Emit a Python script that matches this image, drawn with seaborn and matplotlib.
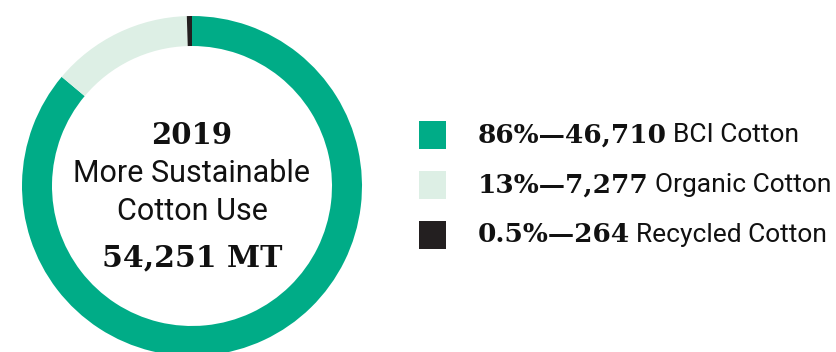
import matplotlib
matplotlib.use("Agg")
import matplotlib.pyplot as plt
from matplotlib import font_manager
from matplotlib.patches import Rectangle
import seaborn as sns

# data
labels = ["BCI Cotton", "Organic Cotton", "Recycled Cotton"]
tonnes = [46710, 7277, 264]
shares = ["86%", "13%", "0.5%"]
colors = ["#00ac87", "#ddefe5", "#231f20"]
year = "2019"
total = "54,251 MT"

sns.set_theme(style="white")

installed = {f.name for f in font_manager.fontManager.ttflist}
sans = "Liberation Sans Narrow" if "Liberation Sans Narrow" in installed else "Roboto"
serif = "DejaVu Serif"

W, H = 837, 352
fig = plt.figure(figsize=(W / 100, H / 100), dpi=100)

# donut: center (192, 186) px, radius 170 px
cx, cy, r = 192, 186, 170
ax = fig.add_axes([(cx - r) / W, (H - cy - r) / H, 2 * r / W, 2 * r / H])
ax.pie(tonnes, colors=colors, startangle=90, counterclock=False, radius=1,
       wedgeprops=dict(width=30 / r, linewidth=0))
ax.set_xlim(-1, 1)
ax.set_ylim(-1, 1)
ax.set_aspect("equal")
ax.axis("off")


def px(x, y):
    return x / W, 1 - y / H


fig.text(*px(cx, 135), year, ha="center", va="center", family=serif,
         weight="bold", fontsize=21, color="#111111")
fig.text(*px(cx, 173), "More Sustainable", ha="center", va="center",
         family=sans, fontsize=22, color="#111111")
fig.text(*px(cx, 211), "Cotton Use", ha="center", va="center",
         family=sans, fontsize=22, color="#111111")
fig.text(*px(cx, 258), total, ha="center", va="center", family=serif,
         weight="bold", fontsize=21.5, color="#111111")

# legend rows
row_y = [135, 185, 235]
fig.canvas.draw()
renderer = fig.canvas.get_renderer()
for lab, t, s, c, y in zip(labels, tonnes, shares, colors, row_y):
    x0, y0 = px(419, y + 14)
    fig.add_artist(Rectangle((x0, y0), 27 / W, 28 / H, transform=fig.transFigure,
                             facecolor=c, edgecolor="none"))
    bold = fig.text(*px(478, y), f"{s}\u2014{t:,}", ha="left", va="center",
                    family=serif, weight="bold", fontsize=19, color="#111111")
    bb = bold.get_window_extent(renderer)
    fig.text(bb.x1 / W + 6 / W, 1 - y / H, lab, ha="left", va="center",
             family=sans, fontsize=19, color="#111111")

fig.savefig("out.png", dpi=100)
